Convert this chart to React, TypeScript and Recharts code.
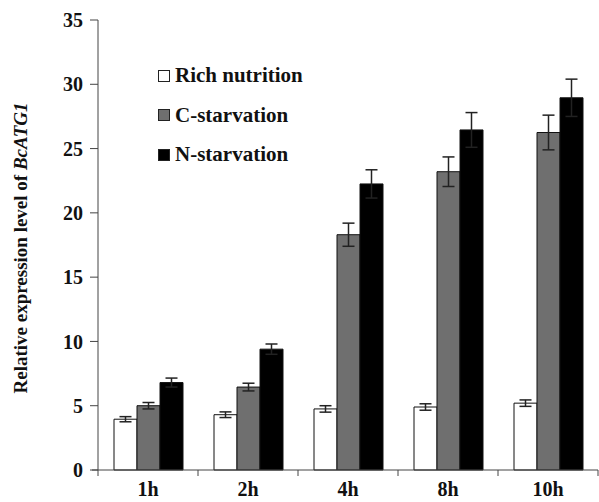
import React from "react";
import { BarChart, Bar, XAxis, YAxis, ErrorBar, Legend } from "recharts";

const times = ["1h", "2h", "4h", "8h", "10h"];
const rich = [3.95, 4.3, 4.75, 4.9, 5.2];
const richErr = [0.2, 0.22, 0.25, 0.25, 0.25];
const carbon = [5.0, 6.45, 18.3, 23.2, 26.25];
const carbonErr = [0.25, 0.3, 0.9, 1.15, 1.35];
const nitrogen = [6.8, 9.4, 22.25, 26.45, 28.95];
const nitrogenErr = [0.35, 0.4, 1.1, 1.35, 1.45];
const yTicks = [0, 5, 10, 15, 20, 25, 30, 35];

const series = [
  { key: "rich", name: "Rich nutrition", fill: "#ffffff" },
  { key: "carbon", name: "C-starvation", fill: "#6f6f6f" },
  { key: "nitrogen", name: "N-starvation", fill: "#000000" },
];

const data = times.map((t, i) => ({
  time: t,
  rich: rich[i],
  richErr: richErr[i],
  carbon: carbon[i],
  carbonErr: carbonErr[i],
  nitrogen: nitrogen[i],
  nitrogenErr: nitrogenErr[i],
}));

const FONT = "'Liberation Serif', 'Times New Roman', serif";
const HALF_BAND = 50;

function XTick({ x, y, payload, index }: any) {
  const axisY = y - 8;
  return (
    <g>
      {index === 0 && (
        <line x1={x - HALF_BAND - 6} x2={x - HALF_BAND} y1={axisY} y2={axisY} stroke="#444" />
      )}
      <line x1={x - HALF_BAND} x2={x - HALF_BAND} y1={axisY} y2={axisY + 6} stroke="#444" />
      {index === times.length - 1 && (
        <line x1={x + HALF_BAND} x2={x + HALF_BAND} y1={axisY} y2={axisY + 6} stroke="#444" />
      )}
      <text x={x} y={y + 18} textAnchor="middle" fontFamily={FONT} fontWeight="bold" fontSize={20} fill="#111">
        {payload.value}
      </text>
    </g>
  );
}

function YLabel() {
  return (
    <text
      transform="translate(27, 248) rotate(-90)"
      textAnchor="middle"
      fontFamily={FONT}
      fontWeight="bold"
      fontSize={19}
      fill="#111">
      Relative expression level of <tspan fontStyle="italic">BcATG1</tspan>
    </text>
  );
}

function LegendBox() {
  return (
    <div style={{ fontFamily: FONT, fontWeight: "bold", fontSize: 21, color: "#111" }}>
      {series.map((s) => (
        <div key={s.key} style={{ display: "flex", alignItems: "center", height: 39.5 }}>
          <span
            style={{
              display: "inline-block",
              width: 10,
              height: 10,
              background: s.fill,
              border: "1px solid #222",
              marginRight: 5,
            }}
          />
          {s.name}
        </div>
      ))}
    </div>
  );
}

export default function App() {
  return (
    <div style={{ position: "absolute", left: 0, top: 0, background: "#fff" }}>
      <BarChart
        width={599}
        height={502}
        data={data}
        barCategoryGap="16%"
        barGap={0}
        margin={{ top: 20, right: 1, left: 0, bottom: 0 }}>
        <XAxis
          dataKey="time"
          height={32}
          tickLine={false}
          tick={<XTick />}
          axisLine={{ stroke: "#444" }}
        />
        <YAxis
          width={98}
          domain={[0, 35]}
          ticks={yTicks}
          interval={0}
          tickSize={8}
          tickMargin={7}
          tickLine={{ stroke: "#444" }}
          axisLine={{ stroke: "#444" }}
          tick={{ fontFamily: FONT, fontWeight: "bold", fontSize: 20, fill: "#111" }}
          label={{ content: <YLabel /> }}
        />
        <Legend
          layout="vertical"
          verticalAlign="middle"
          align="center"
          content={<LegendBox />}
          wrapperStyle={{ left: 158, top: 56, width: 220 }}
        />
        {series.map((s) => (
          <Bar
            key={s.key}
            dataKey={s.key}
            name={s.name}
            fill={s.fill}
            stroke="#111"
            strokeWidth={1}
            isAnimationActive={false}>
            <ErrorBar dataKey={s.key + "Err"} width={6} stroke="#222" strokeWidth={1.5} />
          </Bar>
        ))}
      </BarChart>
    </div>
  );
}
